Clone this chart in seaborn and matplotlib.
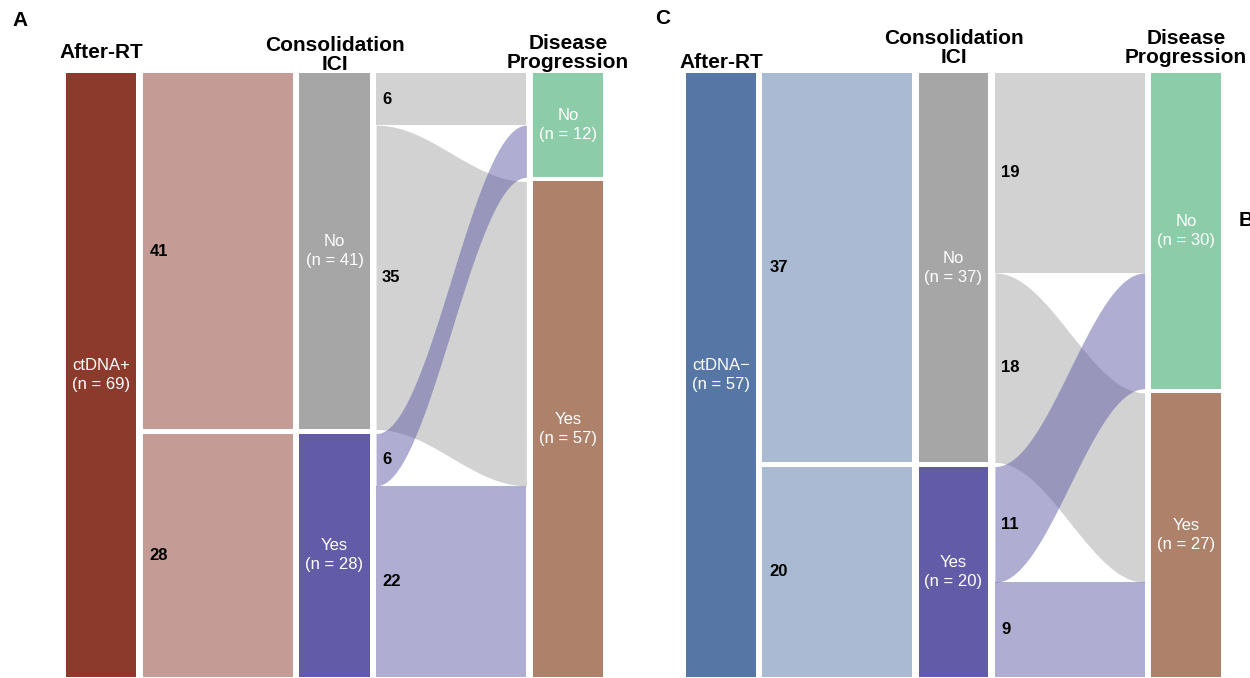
import numpy as np
import matplotlib
matplotlib.use("Agg")
import matplotlib.pyplot as plt
from matplotlib.transforms import blended_transform_factory
import seaborn as sns

sns.set_theme(style="white")
plt.rcParams["font.family"] = ["Liberation Sans", "DejaVu Sans"]

# ---- data -------------------------------------------------------------
ici_levels = ["No", "Yes"]
prog_levels = ["No", "Yes"]
column_titles = ["After-RT", "Consolidation\nICI", "Disease\nProgression"]

# ctDNA+ after RT
a_group = "ctDNA+"
a_ici_counts = [41, 28]                 # consolidation ICI: No, Yes
a_flow_counts = [[6, 35], [6, 22]]      # rows: ICI No / Yes, cols: progression No / Yes

# ctDNA- after RT
c_group = "ctDNA\u2212"
c_ici_counts = [37, 20]
c_flow_counts = [[19, 18], [11, 9]]

# ---- styling ----------------------------------------------------------
group_colors = {"ctDNA+": "#8B3A2C", "ctDNA\u2212": "#5676A6"}
ici_colors = {"No": "#A6A6A6", "Yes": "#625CA8"}
prog_colors = {"No": "#8DCCA8", "Yes": "#AE826A"}
FLOW_ALPHA = 0.5

W_STRATUM = 70.0
W_FLOW = 150.0
SEP = 6.5
FIG_W, FIG_H = 1250, 678


def column_layout():
    s1 = (0.0, W_STRATUM)
    f1 = (s1[1] + SEP, s1[1] + SEP + W_FLOW)
    s2 = (f1[1] + SEP, f1[1] + SEP + W_STRATUM)
    f2 = (s2[1] + SEP, s2[1] + SEP + W_FLOW)
    s3 = (f2[1] + SEP, f2[1] + SEP + W_STRATUM)
    return s1, f1, s2, f2, s3


def stack(counts, gap):
    """Top/bottom of stacked strata with a gap between them."""
    pos, y = [], 0.0
    for c in counts:
        pos.append((y, y + c))
        y += c + gap
    return pos


def smooth(t):
    return (1 - np.cos(np.pi * t)) / 2


def draw_flow(ax, x0, x1, l_top, l_bot, r_top, r_bot, color):
    t = np.linspace(0, 1, 300)
    s = smooth(t)
    xs = x0 + (x1 - x0) * t
    top = l_top + (r_top - l_top) * s
    bot = l_bot + (r_bot - l_bot) * s
    ax.fill_between(xs, top, bot, color=color, alpha=FLOW_ALPHA, linewidth=0)


def draw_panel(ax, group, ici_counts, flow_counts, header_y):
    s1, f1, s2, f2, s3 = column_layout()
    flows = np.array(flow_counts)
    n = int(np.sum(ici_counts))
    prog_counts = flows.sum(axis=0).tolist()
    gap = n * 0.0068
    total = n + gap * (len(ici_levels) - 1)

    # first column: the whole cohort
    ax.bar((s1[0] + s1[1]) / 2, total, width=W_STRATUM, bottom=0,
           color=group_colors[group], linewidth=0)
    ax.text((s1[0] + s1[1]) / 2, total / 2, f"{group}\n(n = {n})",
            color="white", ha="center", va="center", fontsize=12, linespacing=1.35)

    # cohort -> consolidation ICI
    ici_pos = stack(ici_counts, gap)
    for (top, bot), cnt in zip(ici_pos, ici_counts):
        draw_flow(ax, f1[0], f1[1], top, bot, top, bot, group_colors[group])
        ax.text(f1[0] + 7, (top + bot) / 2, str(cnt), fontsize=12,
                fontweight="bold", color="black", ha="left", va="center")

    # consolidation ICI strata
    for (top, bot), lvl, cnt in zip(ici_pos, ici_levels, ici_counts):
        ax.bar((s2[0] + s2[1]) / 2, bot - top, width=W_STRATUM, bottom=top,
               color=ici_colors[lvl], linewidth=0)
        ax.text((s2[0] + s2[1]) / 2, (top + bot) / 2, f"{lvl}\n(n = {cnt})",
                color="white", ha="center", va="center", fontsize=12, linespacing=1.35)

    # progression strata
    prog_pos = stack(prog_counts, gap)
    for (top, bot), lvl, cnt in zip(prog_pos, prog_levels, prog_counts):
        ax.bar((s3[0] + s3[1]) / 2, bot - top, width=W_STRATUM, bottom=top,
               color=prog_colors[lvl], linewidth=0)
        ax.text((s3[0] + s3[1]) / 2, (top + bot) / 2, f"{lvl}\n(n = {cnt})",
                color="white", ha="center", va="center", fontsize=12, linespacing=1.35)

    # ICI -> progression flows
    right_cursor = [p[0] for p in prog_pos]
    segments = []
    for i, (itop, _) in enumerate(ici_pos):
        left = itop
        for j in range(len(prog_levels)):
            c = flows[i, j]
            segments.append((i, left, left + c, right_cursor[j], right_cursor[j] + c, c))
            left += c
            right_cursor[j] += c
    for i, lt, lb, rt, rb, c in segments:          # gray flows underneath, purple on top
        draw_flow(ax, f2[0], f2[1], lt, lb, rt, rb, ici_colors[ici_levels[i]])
    for i, lt, lb, rt, rb, c in segments:
        ax.text(f2[0] + 6, (lt + lb) / 2, str(c), fontsize=12,
                fontweight="bold", color="black", ha="left", va="center")

    ax.set_xlim(0, s3[1])
    ax.set_ylim(total, 0)
    ax.axis("off")

    # column headers
    trans = blended_transform_factory(ax.transData, ax.figure.transFigure)
    for (x0, x1), title, hy in zip((s1, s2, s3), column_titles, header_y):
        ax.text((x0 + x1) / 2, 1 - hy / FIG_H, title, transform=trans,
                ha="center", va="center", fontsize=15, fontweight="bold",
                linespacing=1.0, color="black")


fig = plt.figure(figsize=(FIG_W / 100, FIG_H / 100), dpi=100)
ax_a = fig.add_axes([66 / FIG_W, 1 / FIG_H, 537 / FIG_W, 604 / FIG_H])
ax_c = fig.add_axes([686 / FIG_W, 1 / FIG_H, 535 / FIG_W, 604 / FIG_H])

draw_panel(ax_a, a_group, a_ici_counts, a_flow_counts, header_y=(52, 55, 53))
draw_panel(ax_c, c_group, c_ici_counts, c_flow_counts, header_y=(63, 48, 48))

for x, y, letter in ((12, 21, "A"), (655, 18, "C"), (1239, 221, "B")):
    fig.text(x / FIG_W, 1 - y / FIG_H, letter, ha="left", va="center",
             fontsize=15, fontweight="bold", color="black")

fig.savefig("out.png", dpi=100, facecolor="white")
